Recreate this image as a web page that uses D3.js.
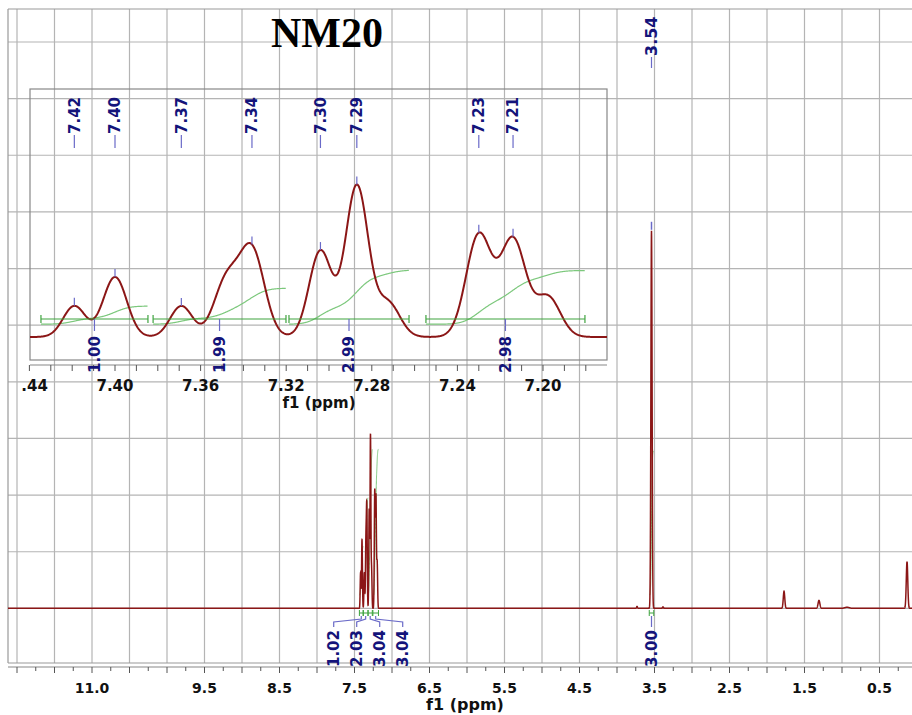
<!DOCTYPE html>
<html>
<head>
<meta charset="utf-8">
<script src="https://cdn.jsdelivr.net/npm/d3@7"></script>
<style>
body { margin: 0; background: #fff; }
svg { display: block; }
text { font-family: "DejaVu Sans", Verdana, sans-serif; font-weight: bold; }
</style>
</head>
<body>
<svg id="chart" width="912" height="715"></svg>
<script>
// peak list: centre (ppm), height (3.54 singlet = 100), gaussian width (ppm)
var peakPpm    = [7.419, 7.400, 7.369, 7.348, 7.336, 7.304, 7.287, 7.2724, 7.230, 7.214, 7.1977, 3.733, 3.540, 3.387, 1.773, 1.307, 0.933, 0.133];
var peakHeight = [9.4, 18.2, 9.4, 16.7, 26.1, 26.1, 45.8, 10.3, 30.9, 29.4, 12.1, 0.5, 100, 0.4, 4.5, 2.1, 0.3, 12.4];
var peakWidth  = [0.0052, 0.0055, 0.0052, 0.0058, 0.0058, 0.0053, 0.0053, 0.0055, 0.0059, 0.0059, 0.0058, 0.006, 0.008, 0.006, 0.010, 0.012, 0.030, 0.010];

// picked peaks (labels)
var insetPicks = [7.419, 7.400, 7.369, 7.336, 7.304, 7.287, 7.230, 7.214];
var mainPicks = [3.54];

// integration regions
var intFrom = [7.4346, 7.3822, 7.3187, 7.2547, 3.570];
var intTo   = [7.3846, 7.3201, 7.2626, 7.1804, 3.510];
var intInset = [1.00, 1.99, 2.99, 2.98];
var intMain = [1.02, 2.03, 3.04, 3.04, 3.00];

var mainTicks = [11.0, 9.5, 8.5, 7.5, 6.5, 5.5, 4.5, 3.5, 2.5, 1.5, 0.5];
var insetTicks = [7.44, 7.40, 7.36, 7.32, 7.28, 7.24, 7.20];

var red = "#8b1616", navy = "#14147a", lblue = "#6a6ac8", green = "#3fa33f", lgreen = "#7cc87c";

var svg = d3.select("#chart");

var x = d3.scaleLinear().domain([12.12, 0]).range([8, 917]);
var y = d3.scaleLinear().domain([-15, 150]).range([665, 42]);
var xi = d3.scaleLinear().domain([7.40, 7.20]).range([115, 543]);
var yi = d3.scaleLinear().domain([0, 46.7]).range([337, 183]);

function spec(v) {
	var s = 0;
	for (var i = 0; i < peakPpm.length; i++) {
		var d = (v - peakPpm[i]) / peakWidth[i];
		if (d > -8 && d < 8) s += peakHeight[i] * Math.exp(-d * d / 2);
	}
	return s;
}

// cumulative integral between a and b, normalised 0..1
function integral(a, b, step) {
	var acc = 0, out = [];
	d3.range(a, b, -step).forEach(function(v) {
		acc += spec(v);
		out.push([v, acc]);
	});
	out.forEach(function(p) { p[1] = p[1] / acc; });
	return out;
}

var defs = svg.append("defs");
defs.append("clipPath").attr("id", "clipMain").append("rect")
	.attr("x", 8).attr("y", 9).attr("width", 904).attr("height", 654);
defs.append("clipPath").attr("id", "clipInset").append("rect")
	.attr("x", 30).attr("y", 89).attr("width", 577).attr("height", 271);
defs.append("clipPath").attr("id", "clipInsetAxis").append("rect")
	.attr("x", 22).attr("y", 360).attr("width", 600).attr("height", 60);

// grid
var grid = svg.append("g").attr("stroke", "#b4b4b4").attr("stroke-width", 1.2);
grid.selectAll(".vg").data(d3.range(0.5, 12.01, 0.5)).enter().append("line")
	.attr("x1", function(d) { return x(d); })
	.attr("x2", function(d) { return x(d); })
	.attr("y1", 9).attr("y2", 663);
grid.selectAll(".hg").data(d3.range(0, 151, 15)).enter().append("line")
	.attr("x1", 8).attr("x2", 912)
	.attr("y1", function(d) { return y(d); })
	.attr("y2", function(d) { return y(d); });

// frame
var frame = svg.append("g").attr("stroke", "#999").attr("stroke-width", 1.2);
frame.append("line").attr("x1", 8).attr("x2", 8).attr("y1", 9).attr("y2", 663);
frame.append("line").attr("x1", 8).attr("x2", 912).attr("y1", 9).attr("y2", 9);
frame.append("line").attr("x1", 8).attr("x2", 912).attr("y1", 663).attr("y2", 663);

// main x axis
var ax = svg.append("g");
ax.append("line").attr("x1", 8).attr("x2", 912).attr("y1", 667).attr("y2", 667)
	.attr("stroke", "#888").attr("stroke-width", 1.2);
ax.selectAll(".tk").data(d3.range(0.25, 12.01, 0.25)).enter().append("line")
	.attr("x1", function(d) { return x(d); })
	.attr("x2", function(d) { return x(d); })
	.attr("y1", 667)
	.attr("y2", function(d) { return (d * 2) % 1 == 0 ? 673 : 671; })
	.attr("stroke", "#555").attr("stroke-width", 1);
ax.selectAll(".tl").data(mainTicks).enter().append("text")
	.attr("x", function(d) { return x(d); })
	.attr("y", 693)
	.attr("text-anchor", "middle")
	.attr("font-size", 14)
	.attr("fill", "#111")
	.text(function(d) { return d.toFixed(1); });
ax.append("text").attr("x", 465).attr("y", 710).attr("text-anchor", "middle")
	.attr("font-size", 16).attr("fill", "#111").text("f1 (ppm)");

// main spectrum + integrals
var main = svg.append("g").attr("clip-path", "url(#clipMain)");

intFrom.forEach(function(a, i) {
	var pts = integral(a, intTo[i], 0.0004);
	main.append("path")
		.attr("d", d3.line()
			.x(function(d) { return x(d[0]); })
			.y(function(d) { return y(3.5 + d[1] * intMain[i] * 12.7); })(pts))
		.attr("fill", "none").attr("stroke", lgreen).attr("stroke-width", 1);
});

var samples = d3.range(0, 12.13, 0.005);
peakPpm.forEach(function(p, i) {
	var w = peakWidth[i];
	samples = samples.concat(d3.range(p - 7 * w, p + 7 * w, w / 6));
});
samples.sort(d3.descending);

main.append("path")
	.attr("d", d3.line()
		.x(function(d) { return x(d); })
		.y(function(d) { return y(spec(d)); })(samples))
	.attr("fill", "none").attr("stroke", red).attr("stroke-width", 1.5);

// main integration bars
var mbar = svg.append("g").attr("stroke", green).attr("stroke-width", 1);
intFrom.forEach(function(a, i) {
	var x0 = x(a), x1 = x(intTo[i]);
	mbar.append("line").attr("x1", x0).attr("x2", x1).attr("y1", 613).attr("y2", 613);
	mbar.append("line").attr("x1", x0).attr("x2", x0).attr("y1", 610).attr("y2", 616);
	mbar.append("line").attr("x1", x1).attr("x2", x1).attr("y1", 610).attr("y2", 616);
});

// integral labels under the main spectrum, spread out with leaders
var aroC = intFrom.slice(0, 4).map(function(a, i) { return x((a + intTo[i]) / 2); });
var aroMid = d3.mean(aroC);
var mlab = svg.append("g");
intMain.forEach(function(v, i) {
	var xc = x((intFrom[i] + intTo[i]) / 2);
	var xl = i < 4 ? aroMid + (i - 1.5) * 23 : xc;
	mlab.append("path")
		.attr("d", "M" + xc + ",616L" + xc + ",619L" + xl + ",622L" + xl + ",627")
		.attr("fill", "none").attr("stroke", lblue).attr("stroke-width", 1.2);
	mlab.append("text")
		.attr("transform", "translate(" + xl + ",630) rotate(-90)")
		.attr("dy", "0.36em")
		.attr("text-anchor", "end")
		.attr("font-size", 15)
		.attr("fill", navy)
		.text(v.toFixed(2));
});

// main peak picks
mainPicks.forEach(function(p) {
	var px = x(p), top = y(spec(p));
	svg.append("line").attr("x1", px).attr("x2", px).attr("y1", top - 9).attr("y2", top - 1)
		.attr("stroke", lblue).attr("stroke-width", 1.5);
	svg.append("line").attr("x1", px).attr("x2", px).attr("y1", 57).attr("y2", 68)
		.attr("stroke", lblue).attr("stroke-width", 1.2);
	svg.append("text")
		.attr("transform", "translate(" + px + ",56) rotate(-90)")
		.attr("dy", "0.36em")
		.attr("font-size", 16)
		.attr("fill", navy)
		.text(p.toFixed(2));
});

// ---- inset ----
var inset = svg.append("g");
inset.append("rect").attr("x", 30).attr("y", 89).attr("width", 577).attr("height", 271)
	.attr("fill", "none").attr("stroke", "#888").attr("stroke-width", 1.2);

var iax = inset.append("g").attr("clip-path", "url(#clipInsetAxis)");
iax.append("line").attr("x1", 30).attr("x2", 607).attr("y1", 365).attr("y2", 365)
	.attr("stroke", "#888").attr("stroke-width", 1.2);
iax.selectAll(".itk").data(d3.range(7.18, 7.445, 0.01)).enter().append("line")
	.attr("x1", function(d) { return xi(d); })
	.attr("x2", function(d) { return xi(d); })
	.attr("y1", 365).attr("y2", 371)
	.attr("stroke", "#555").attr("stroke-width", 1);
iax.selectAll(".itl").data(insetTicks).enter().append("text")
	.attr("x", function(d) { return xi(d); })
	.attr("y", 391)
	.attr("text-anchor", "middle")
	.attr("font-size", 15)
	.attr("fill", "#111")
	.text(function(d) { return d.toFixed(2); });
inset.append("text").attr("x", 319).attr("y", 408).attr("text-anchor", "middle")
	.attr("font-size", 15).attr("fill", "#111").text("f1 (ppm)");

var iplot = inset.append("g").attr("clip-path", "url(#clipInset)");

intInset.forEach(function(v, i) {
	var pts = integral(intFrom[i], intTo[i], 0.0002);
	iplot.append("path")
		.attr("d", d3.line()
			.x(function(d) { return xi(d[0]); })
			.y(function(d) { return yi(3.9 + d[1] * v * 5.45); })(pts))
		.attr("fill", "none").attr("stroke", lgreen).attr("stroke-width", 1.2);
});

iplot.append("path")
	.attr("d", d3.line()
		.x(function(d) { return xi(d); })
		.y(function(d) { return yi(spec(d)); })(d3.range(7.45, 7.16, -0.0002)))
	.attr("fill", "none").attr("stroke", red).attr("stroke-width", 2);

var ibar = inset.append("g").attr("stroke", green).attr("stroke-width", 1.2);
intInset.forEach(function(v, i) {
	var x0 = xi(intFrom[i]), x1 = xi(intTo[i]), xc = (x0 + x1) / 2;
	ibar.append("line").attr("x1", x0).attr("x2", x1).attr("y1", 319).attr("y2", 319);
	ibar.append("line").attr("x1", x0).attr("x2", x0).attr("y1", 315).attr("y2", 323);
	ibar.append("line").attr("x1", x1).attr("x2", x1).attr("y1", 315).attr("y2", 323);
	inset.append("line").attr("x1", xc).attr("x2", xc).attr("y1", 319).attr("y2", 331)
		.attr("stroke", lblue).attr("stroke-width", 1.2);
	inset.append("text")
		.attr("transform", "translate(" + xc + ",336) rotate(-90)")
		.attr("dy", "0.36em")
		.attr("text-anchor", "end")
		.attr("font-size", 15)
		.attr("fill", navy)
		.text(v.toFixed(2));
});

insetPicks.forEach(function(p) {
	var px = xi(p), top = yi(spec(p));
	inset.append("line").attr("x1", px).attr("x2", px).attr("y1", top - 8).attr("y2", top)
		.attr("stroke", lblue).attr("stroke-width", 1.2);
	inset.append("line").attr("x1", px).attr("x2", px).attr("y1", 135).attr("y2", 148)
		.attr("stroke", lblue).attr("stroke-width", 1.2);
	inset.append("text")
		.attr("transform", "translate(" + px + ",134) rotate(-90)")
		.attr("dy", "0.36em")
		.attr("font-size", 15)
		.attr("fill", navy)
		.text(p.toFixed(2));
});

// title
svg.append("text").attr("x", 327).attr("y", 47).attr("text-anchor", "middle")
	.style("font-family", "'Liberation Serif', 'Times New Roman', serif")
	.attr("font-size", 42).attr("fill", "#000").text("NM20");
</script>
</body>
</html>
